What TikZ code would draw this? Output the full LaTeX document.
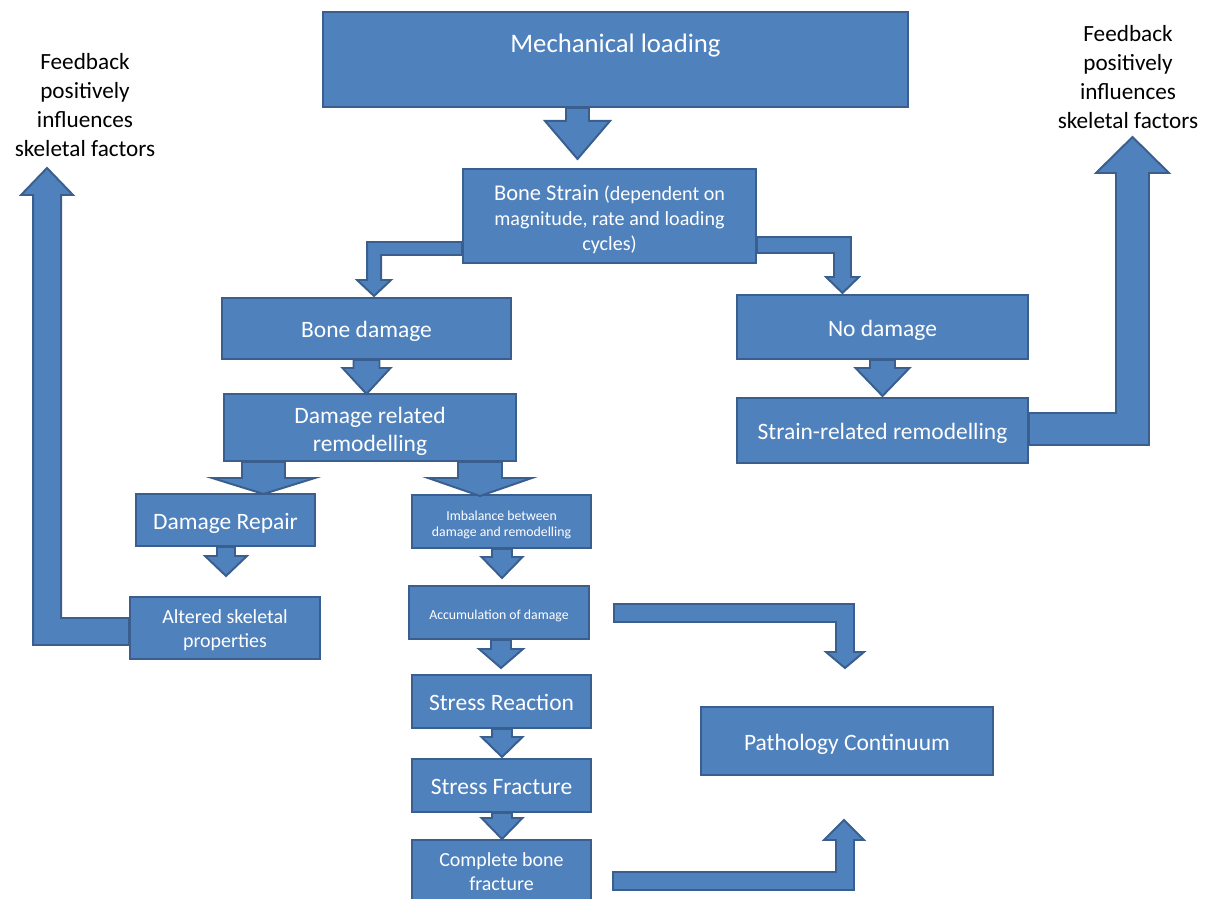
\documentclass[tikz,border=0pt]{standalone}
\usepackage{fontspec}
\setmainfont{Carlito}
\usetikzlibrary{calc}
\definecolor{boxfill}{HTML}{4F81BD}
\definecolor{boxline}{HTML}{3A5F8E}

% straight block arrow: start, length, shaft width, head width, head length
\newcommand{\blockdown}[5]{%
  \draw[blockarrow] #1 ++({-(#3)/2},0) -- ++(0,{#2-#5}) -- ++({(#3-#4)/2},0)
    -- ++({#4/2},#5) -- ++({#4/2},-#5) -- ++({(#3-#4)/2},0) -- ++(0,{-(#2-#5)}) -- cycle;}

\begin{document}
\begin{tikzpicture}[
  x=0.025cm, y=-0.025cm,
  stage/.style={draw=boxline, fill=boxfill, line width=1.4pt, text=white, align=center,
    inner sep=1pt, font=\fontsize{16.7}{20.4}\selectfont},
  oneline/.style={text height=16.7pt, text depth=3.3pt},
  dims/.style 2 args={minimum width=#1*0.025cm, minimum height=#2*0.025cm},
  midtext/.style={font=\fontsize{14.2}{17}\selectfont},
  tinytext/.style={font=\fontsize{9.8}{11.4}\selectfont},
  feedback/.style={align=center, font=\fontsize{16.5}{20.6}\selectfont},
  blockarrow/.style={draw=boxline, fill=boxfill, line width=1.4pt, line join=miter}
]
\useasboundingbox (0,0) rectangle (1209,899);

% Main stages
\node[stage, dims={585}{95}, font=\fontsize{19}{23}\selectfont, text height=14pt, text depth=23.5pt]
  (load) at (615.5,59.5) {Mechanical loading};
\node[stage, dims={293}{94}, font=\fontsize{14.3}{18}\selectfont, text height=52pt] (strain) at (609.5,216)
  {{\fontsize{16}{18}\selectfont Bone Strain} (dependent on\\magnitude, rate and loading\\cycles)};
\node[stage, oneline, dims={289}{61}] (dmg) at (366.5,328.5) {Bone damage};
\node[stage, oneline, dims={291}{64}] (nodmg) at (882.5,327) {No damage};
\node[stage, dims={292}{67}, text height=37.5pt] (dmgrem) at (370,427.5) {Damage related\\remodelling};
\node[stage, oneline, dims={291}{65}] (strem) at (882.5,430.5) {Strain-related remodelling};

% Left branch
\node[stage, oneline, dims={179}{52}] (repair) at (225.5,520) {Damage Repair};
\node[stage, midtext, dims={190}{62}, text height=29.6pt] (altered) at (225,628) {Altered skeletal\\properties};

% Centre column
\node[stage, tinytext, dims={179}{53}, text height=22.4pt] (imbal) at (501.5,521.5) {Imbalance between\\damage and remodelling};
\node[stage, tinytext, dims={180}{53}, text height=12.6pt, text depth=2pt] (accum) at (499,612.5) {Accumulation of damage};
\node[stage, oneline, dims={179}{53}] (react) at (501.5,701.5) {Stress Reaction};
\node[stage, oneline, dims={179}{53}] (frac) at (501.5,785.5) {Stress Fracture};
\node[stage, midtext, dims={179}{62}, text height=27.6pt] (complete) at (501.5,871) {Complete bone\\fracture};
\node[stage, oneline, dims={292}{68}] (patho) at (847,741) {Pathology Continuum};

% Feedback notes
\node[feedback] (fbleft) at (85,105) {Feedback\\positively\\influences\\skeletal factors};
\node[feedback] (fbright) at (1128,77) {Feedback\\positively\\influences\\skeletal factors};

% Straight block arrows
\blockdown{($(load.south)+(-38,0)$)}{51}{23}{65}{38}
\blockdown{($(dmg.south)+(0,0)$)}{34}{26}{48}{26}
\blockdown{($(nodmg.south)+(0,0)$)}{36}{25}{54}{28}
\blockdown{($(dmgrem.south)+(-106.5,0)$)}{32}{43}{103}{16}
\blockdown{($(dmgrem.south)+(110,0)$)}{34}{44}{104}{18}
\blockdown{($(repair.south)+(0.5,0)$)}{29}{18}{42}{20}
\blockdown{($(imbal.south)+(0.5,0)$)}{29}{20}{41}{21}
\blockdown{($(accum.south)+(2,0)$)}{28}{20}{44}{19}
\blockdown{($(react.south)+(0.5,0)$)}{28}{20}{41}{20}
\blockdown{($(frac.south)+(0.5,0)$)}{26}{20}{41}{21}

% Bent block arrows
\draw[blockarrow] ($(strain.west)+(0,26)$) -- ++(-95,0) -- ++(0,38) -- ++(-10,0) -- ++(17,16)
  -- ++(17,-16) -- ++(-10,0) -- ++(0,-25) -- ++(81,0) -- cycle;
\draw[blockarrow] ($(strain.east)+(0,21)$) -- ++(94,0) -- ++(0,40) -- ++(8,0) -- ++(-16.5,16)
  -- ++(-16.5,-16) -- ++(8,0) -- ++(0,-24) -- ++(-77,0) -- cycle;
\draw[blockarrow] ($(altered.west)+(0,17)$) -- ++(-96,0) -- ++(0,-450) -- ++(-12,0) -- ++(26,-27)
  -- ++(26,27) -- ++(-12,0) -- ++(0,423) -- ++(68,0) -- cycle;
\draw[blockarrow] ($(strem.east)+(0,-17.5)$) -- ++(87,0) -- ++(0,-240) -- ++(-20,0) -- ++(36.5,-36)
  -- ++(36.5,36) -- ++(-20,0) -- ++(0,272) -- ++(-120,0) -- cycle;
\draw[blockarrow] ($(accum.east)+(24,-8.5)$) -- ++(240,0) -- ++(0,48) -- ++(10,0) -- ++(-19,16)
  -- ++(-19,-16) -- ++(10,0) -- ++(0,-30) -- ++(-222,0) -- cycle;
\draw[blockarrow] ($(complete.east)+(21,19)$) -- ++(241,0) -- ++(0,-50) -- ++(10,0) -- ++(-20,-20)
  -- ++(-20,20) -- ++(12,0) -- ++(0,32) -- ++(-223,0) -- cycle;

\end{tikzpicture}
\end{document}
